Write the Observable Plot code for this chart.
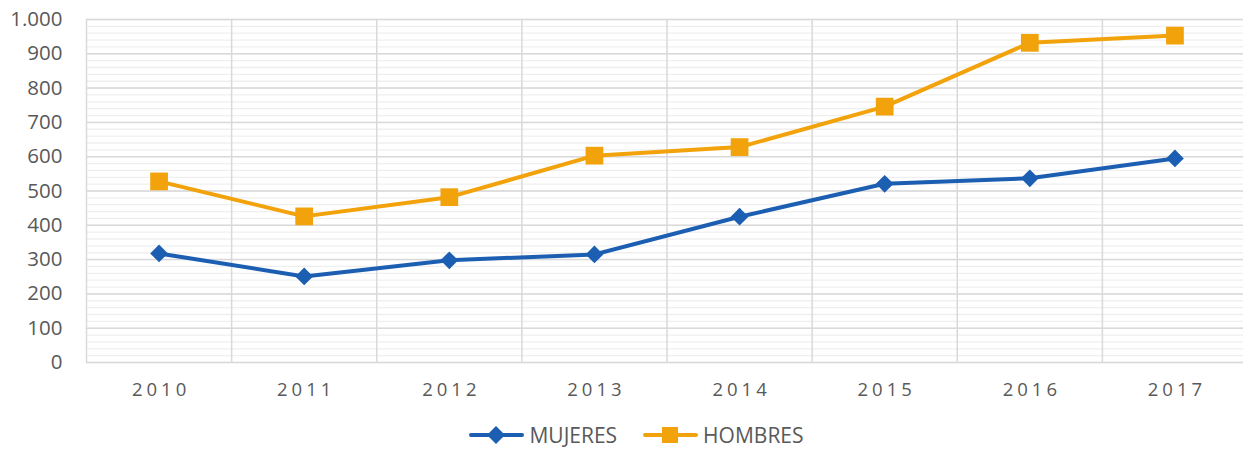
<!DOCTYPE html>
<html>
<head>
<meta charset="utf-8">
<script src="https://cdn.jsdelivr.net/npm/d3@7"></script>
<script src="https://cdn.jsdelivr.net/npm/@observablehq/plot@0.6"></script>
<style>
  html, body { margin: 0; padding: 0; background: #fff; }
  #chart { width: 1243px; }
  .legend { display: flex; justify-content: center; align-items: center; height: 39px; font-family: "Open Sans", sans-serif; font-size: 21px; color: #595959; gap: 26px; margin-left: 30px; }
  .legend span.item { display: flex; align-items: center; gap: 5px; }
</style>
</head>
<body>
<div id="chart"></div>
<script>
const years = [2010, 2011, 2012, 2013, 2014, 2015, 2016, 2017];
const mujeres = [318, 251, 298, 315, 425, 521, 537, 595];
const hombres = [528, 426, 482, 603, 628, 746, 932, 953];
const seriesNames = ["MUJERES", "HOMBRES"];
const seriesColors = ["#1c5fb2", "#f2a20a"];
const seriesSymbols = ["diamond2", "square"];
const yMajorTicks = [0, 100, 200, 300, 400, 500, 600, 700, 800, 900, 1000];
const yMinorTicks = d3.range(0, 1001, 20);

const data = [];
years.forEach((y, i) => {
  data.push({year: y, value: mujeres[i], serie: seriesNames[0]});
  data.push({year: y, value: hombres[i], serie: seriesNames[1]});
});
const bandEdges = years.map(y => y - 0.5).concat([years[years.length - 1] + 0.5]);

const loc = d3.formatLocale({decimal: ",", thousands: ".", grouping: [3], currency: ["", ""]});
const fmt = loc.format(",");

const plot = Plot.plot({
  width: 1243,
  height: 415,
  marginTop: 19,
  marginBottom: 53,
  marginLeft: 86,
  marginRight: 0,
  style: {fontFamily: "'Open Sans', sans-serif", color: "#595959", background: "#fff"},
  x: {domain: [2009.5, 2017.5], range: [86, 1247], axis: null},
  y: {domain: [0, 1000], axis: null},
  color: {domain: seriesNames, range: seriesColors},
  symbol: {domain: seriesNames, range: seriesSymbols},
  marks: [
    Plot.ruleY(yMinorTicks, {stroke: "#efefef", strokeWidth: 1.3}),
    Plot.ruleY(yMajorTicks, {stroke: "#d9d9d9", strokeWidth: 1.5}),
    Plot.ruleX(bandEdges, {stroke: "#d9d9d9", strokeWidth: 1.5}),
    Plot.text(yMajorTicks, {x: 2009.5, y: d => d, text: d => fmt(d), textAnchor: "end", dx: -24, fontSize: 20.5, fill: "#595959"}),
    Plot.text(years, {x: d => d, y: 0, text: d => String(d), dy: 28, dx: 2, fontSize: 18.5, fill: "#595959", lineAnchor: "middle"}),
    Plot.line(data, {x: "year", y: "value", stroke: "serie", strokeWidth: 4, z: "serie"}),
    Plot.dot(data.filter(d => d.serie === "MUJERES"), {x: "year", y: "value", fill: "serie", symbol: "serie", r: 8, stroke: "none"}),
    Plot.dot(data.filter(d => d.serie === "HOMBRES"), {x: "year", y: "value", fill: "serie", symbol: "serie", r: 10, stroke: "none"})
  ]
});
d3.select(plot).selectAll("text")
  .filter(function() { return years.includes(+this.textContent); })
  .style("letter-spacing", "4px");
document.getElementById("chart").appendChild(plot);

const legend = document.createElement("div");
legend.className = "legend";
seriesNames.forEach((name, i) => {
  const item = document.createElement("span");
  item.className = "item";
  const sym = seriesSymbols[i] === "square"
    ? `<rect x="19" y="3" width="16" height="16" fill="${seriesColors[i]}"/>`
    : `<polygon points="27,2 36,11 27,20 18,11" fill="${seriesColors[i]}"/>`;
  item.innerHTML = `<svg width="55" height="22"><line x1="2" x2="53" y1="11" y2="11" stroke="${seriesColors[i]}" stroke-width="4" stroke-linecap="round"/>${sym}</svg><span>${name}</span>`;
  legend.appendChild(item);
});
document.body.appendChild(legend);
</script>
</body>
</html>
